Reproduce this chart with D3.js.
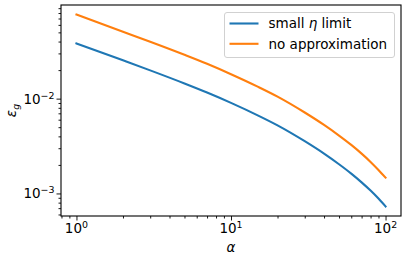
<!DOCTYPE html>
<html><head><meta charset="utf-8">
<script src="https://cdn.jsdelivr.net/npm/d3@7"></script>
<style>
html,body{margin:0;padding:0;background:#fff;}
svg{display:block;font-family:"DejaVu Sans",sans-serif;}
</style></head>
<body><svg id="c" width="407" height="259"></svg>
<script>
const alpha = [1, 2, 3, 5, 7, 10, 15, 20, 30, 40, 50, 60, 70, 80, 90, 100];
const smallEta = [0.0382, 0.02535, 0.01986, 0.01445, 0.01159, 0.009016, 0.006622, 0.005224,
                  0.003556, 0.00263, 0.002032, 0.001618, 0.001309, 0.001072, 0.000883, 0.00073];
const noApprox = [0.0770, 0.0508, 0.0398, 0.0290, 0.0233, 0.0181, 0.0133, 0.0105,
                  0.00714, 0.00528, 0.00408, 0.00325, 0.00263, 0.00215, 0.00177, 0.00147];
const seriesNames = ["small η limit", "no approximation"];
const xTickExps = [0, 1, 2];
const yTickExps = [-3, -2];
const xLabel = "α";

const colors = ["#1f77b4", "#ff7f0e"];
const svg = d3.select("#c");
const L = 61, R = 401, T = 5, B = 216;
const FS = 13.5;

const lg = v => Math.log10(v);
const allY = smallEta.concat(noApprox);
const xr = [lg(d3.min(alpha)), lg(d3.max(alpha))];
const yr = [lg(d3.min(allY)), lg(d3.max(allY))];
const xm = (xr[1]-xr[0])*0.05, ym = (yr[1]-yr[0])*0.05;
const x = d3.scaleLog().domain([10**(xr[0]-xm), 10**(xr[1]+xm)]).range([L, R]);
const y = d3.scaleLog().domain([10**(yr[0]-ym), 10**(yr[1]+ym)]).range([B, T]);

// lines
const line = d3.line().x(d => x(d[0])).y(d => y(d[1])).curve(d3.curveMonotoneX);
[smallEta, noApprox].forEach((s, i) => {
  svg.append("path").datum(alpha.map((a, j) => [a, s[j]]))
    .attr("d", line).attr("fill", "none").attr("stroke", colors[i])
    .attr("stroke-width", 2.1).attr("stroke-linecap", "square");
});

// minor ticks
function minors(scale) {
  const [a, b] = scale.domain();
  const out = [];
  for (let e = Math.floor(lg(a)); e <= Math.ceil(lg(b)); e++)
    for (let k = 2; k <= 9; k++) { const v = k * 10 ** e; if (v >= a && v <= b) out.push(v); }
  return out;
}
const gx = svg.append("g").attr("transform", `translate(0,${B})`);
gx.call(d3.axisBottom(x).tickValues(minors(x)).tickSize(2.5).tickFormat(""));
gx.append("g").call(d3.axisBottom(x).tickValues(xTickExps.map(e => 10 ** e)).tickSize(4.5).tickFormat(""));
gx.selectAll(".domain").remove();
gx.selectAll("line").attr("stroke", "#000").attr("stroke-width", 0.9);

const gy = svg.append("g").attr("transform", `translate(${L},0)`);
gy.call(d3.axisLeft(y).tickValues(minors(y)).tickSize(2.5).tickFormat(""));
gy.append("g").call(d3.axisLeft(y).tickValues(yTickExps.map(e => 10 ** e)).tickSize(4.5).tickFormat(""));
gy.selectAll(".domain").remove();
gy.selectAll("line").attr("stroke", "#000").attr("stroke-width", 0.9);

// spines
svg.append("rect").attr("x", L).attr("y", T).attr("width", R - L).attr("height", B - T)
  .attr("fill", "none").attr("stroke", "#000").attr("stroke-width", 1.1);

function pow10(sel, e) {
  sel.append("tspan").text("10");
  sel.append("tspan").attr("font-size", FS * 0.7).attr("dy", -5).text(e < 0 ? "\u2212" + (-e) : String(e));
}
xTickExps.forEach(e => {
  const t = svg.append("text").attr("x", x(10 ** e)).attr("y", 233)
    .attr("text-anchor", "middle").attr("font-size", FS).attr("fill", "#000");
  pow10(t, e);
});
yTickExps.forEach(e => {
  const t = svg.append("text").attr("x", 54.5).attr("y", y(10 ** e) + 5)
    .attr("text-anchor", "end").attr("font-size", FS).attr("fill", "#000");
  pow10(t, e);
});

// axis labels
svg.append("text").attr("x", (L + R) / 2).attr("y", 252).attr("text-anchor", "middle")
  .attr("font-size", FS).attr("font-style", "italic").text(xLabel);
const yl = svg.append("text").attr("transform", `translate(16,${(T + B) / 2}) rotate(-90)`)
  .attr("text-anchor", "middle").attr("font-size", FS);
yl.append("tspan").attr("font-style", "italic").text("ε");
yl.append("tspan").attr("font-style", "italic").attr("font-size", FS * 0.7).attr("dy", 2.5).text("g");

// legend
const lgG = svg.append("g");
lgG.append("rect").attr("x", 224.5).attr("y", 12.5).attr("width", 170).attr("height", 45)
  .attr("rx", 2.5).attr("fill", "#fff").attr("fill-opacity", 0.8)
  .attr("stroke", "#cccccc").attr("stroke-width", 0.9);
seriesNames.forEach((n, i) => {
  const yy = 23.5 + i * 20.3;
  lgG.append("line").attr("x1", 229.5).attr("x2", 258.5).attr("y1", yy).attr("y2", yy)
    .attr("stroke", colors[i]).attr("stroke-width", 2.1);
  const t = lgG.append("text").attr("x", 268.5).attr("y", yy + 4.8).attr("font-size", FS);
  if (n.includes("η")) {
    const parts = n.split("η");
    t.append("tspan").text(parts[0]);
    t.append("tspan").attr("font-style", "italic").text("η");
    t.append("tspan").text(parts[1]);
  } else t.text(n);
});
</script></body></html>
